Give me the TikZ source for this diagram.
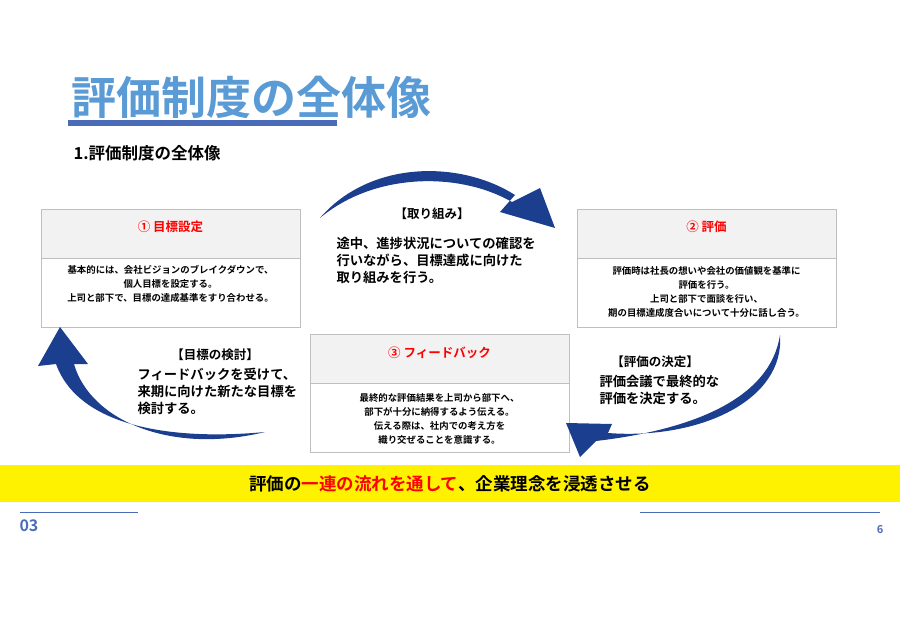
\documentclass[tikz,border=0pt]{standalone}
\usepackage{fontspec}
\setmainfont{Noto Sans CJK JP}
\newfontfamily\jpb{Noto Sans CJK JP Bold}
\definecolor{navy}{HTML}{1B3F8E}
\definecolor{ttl}{HTML}{5B9BD5}
\definecolor{bar}{HTML}{4A6CB8}
\definecolor{hdr}{HTML}{F2F2F2}
\definecolor{bd}{HTML}{BFBFBF}
\begin{document}
\begin{tikzpicture}[x=1pt,y=-1pt,
  box/.style={draw=bd,line width=1pt},
  hd/.style={text=red,font=\jpb\fontsize{12.5}{14}\selectfont},
  bt/.style={align=center,font=\jpb\fontsize{9.4}{13.8}\selectfont},
  pt/.style={align=left,font=\jpb\fontsize{13.3}{17}\selectfont,anchor=north west},
  lb/.style={font=\jpb\fontsize{12.5}{14}\selectfont},
  arr/.style={fill=navy,draw=none}]
\useasboundingbox (0,0) rectangle (900,623);
% title
\node[anchor=west,text=ttl,font=\jpb\fontsize{45}{48}\selectfont] (title) at (68,97) {評価制度の全体像};
\fill[bar] (68,120) rectangle (337,126);
\node[anchor=west,font=\jpb\fontsize{16.5}{18}\selectfont] (sub) at (70,153) {1.評価制度の全体像};
% boxes
\foreach \n/\x/\y in {b1/41/209,b2/577/209,b3/310/334}{
  \fill[hdr] (\x,\y) rectangle ++(259,49);
  \draw[box] (\x,\y) rectangle ++(259,118);
  \draw[box] (\x,\y+49) -- ++(259,0);
}
\node[hd] (h1) at (170.5,227) {① 目標設定};
\node[bt] (t1) at (170.5,284) {基本的には、会社ビジョンのブレイクダウンで、\\個人目標を設定する。\\上司と部下で、目標の達成基準をすり合わせる。};
\node[hd] (h2) at (706.5,227) {② 評価};
\node[bt] (t2) at (706.5,292) {評価時は社長の想いや会社の価値観を基準に\\評価を行う。\\上司と部下で面談を行い、\\期の目標達成度合いについて十分に話し合う。};
\node[hd] (h3) at (439.5,353) {③ フィードバック};
\node[bt] (t3) at (439.5,419) {最終的な評価結果を上司から部下へ、\\部下が十分に納得するよう伝える。\\伝える際は、社内での考え方を\\織り交ぜることを意識する。};
% labels
\node[lb] (l1) at (432,214) {【取り組み】};
\node[pt] (p1) at (333,234) {途中、進捗状況についての確認を\\行いながら、目標達成に向けた\\取り組みを行う。};
\node[lb] (l2) at (655,362) {【評価の決定】};
\node[pt] (p2) at (596,372) {評価会議で最終的な\\評価を決定する。};
\node[lb] (l3) at (215,355) {【目標の検討】};
\node[pt] (p3) at (134,365) {フィードバックを受けて、\\来期に向けた新たな目標を\\検討する。};
% arrows
\path[arr] (320,218) .. controls (370,160) and (460,160) .. (515,195) -- (500,212) -- (555,228) -- (540,188) -- (512,202) .. controls (460,172) and (375,172) .. (320,218) -- cycle;
\path[arr] (780,335) .. controls (785,400) and (700,440) .. (608,433) -- (612,424) -- (566,423) -- (580,457) -- (596,441) .. controls (690,430) and (770,400) .. (780,335) -- cycle;
\path[arr] (265,432) .. controls (170,455) and (90,420) .. (74,364) -- (88,364) -- (60,327) -- (38,366) -- (56,364) .. controls (80,430) and (180,440) .. (265,432) -- cycle;
% band
\fill[yellow] (0,465) rectangle (900,502);
\node[font=\jpb\fontsize{17.5}{19}\selectfont] (band) at (450,484) {評価の\textcolor{red}{一連の流れを通して}、企業理念を浸透させる};
% footer
\draw[bar,line width=0.6pt] (20,512) -- (138,512);
\draw[bar,line width=0.6pt] (640,512) -- (880,512);
\node[anchor=west,text=bar,font=\jpb\fontsize{16}{18}\selectfont] (num) at (16,526) {03};
\node[text=bar,font=\jpb\fontsize{11}{12}\selectfont] (pg) at (880,530) {6};
\end{tikzpicture}
\end{document}
